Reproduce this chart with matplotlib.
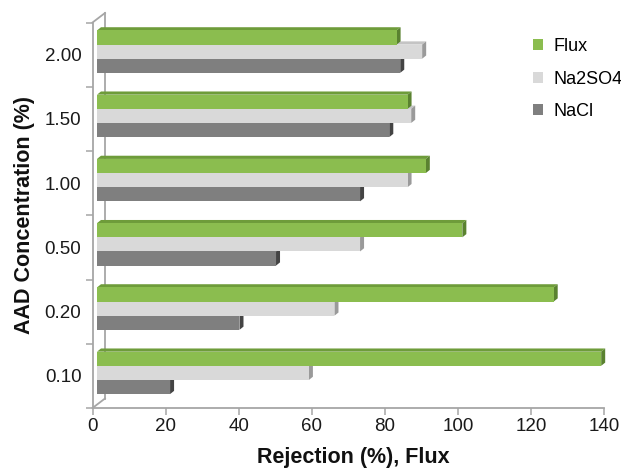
import matplotlib
matplotlib.use("Agg")
import matplotlib.pyplot as plt
from matplotlib.patches import Polygon, Patch
from matplotlib.lines import Line2D
from matplotlib.transforms import ScaledTranslation

plt.rcParams['font.family'] = ['Liberation Sans', 'DejaVu Sans']

concentrations = ["0.10", "0.20", "0.50", "1.00", "1.50", "2.00"]
flux = [138, 125, 100, 90, 85, 82]
na2so4 = [58, 65, 72, 85, 86, 89]
nacl = [20, 39, 49, 72, 80, 83]

series_names = ["Flux", "Na2SO4", "NaCl"]
face_colors = ["#8bbd4f", "#d9d9d9", "#7f7f7f"]
top_colors = ["#6e9c3a", "#c4c4c4", "#6a6a6a"]
side_colors = ["#5a8230", "#9a9a9a", "#444444"]

W, H = 621, 469
fig = plt.figure(figsize=(W / 100, H / 100), dpi=100)
left, right, bottom, top = 92.5, 604, 408, 22.5
ax = fig.add_axes([left / W, 1 - bottom / H, (right - left) / W, (bottom - top) / H])

xmax = 140
ax.set_xlim(0, xmax)
ax.set_ylim(-0.5, len(concentrations) - 0.5)

px_per_x = (right - left) / xmax
px_per_y = (bottom - top) / len(concentrations)

# bars sit slightly behind the front plane
face_shift = ScaledTranslation(0.045, 0.03, fig.dpi_scale_trans)
trans = ax.transData + face_shift
depth_x = 4.0 / px_per_x
depth_y = 3.2 / px_per_y

bar_h = 0.22
offsets = [bar_h, 0.0, -bar_h]
values = [flux, na2so4, nacl]

z = 2
for i in range(len(concentrations)):
    # draw bottom bar of the group first so upper faces cover hidden parts
    for s in [2, 1, 0]:
        v = values[s][i]
        yc = i + offsets[s]
        y0, y1 = yc - bar_h / 2, yc + bar_h / 2
        topface = Polygon([(0, y1), (depth_x, y1 + depth_y), (v + depth_x, y1 + depth_y), (v, y1)],
                          closed=True, facecolor=top_colors[s], edgecolor='none',
                          transform=trans, zorder=z, clip_on=False)
        side = Polygon([(v, y0), (v + depth_x, y0 + depth_y), (v + depth_x, y1 + depth_y), (v, y1)],
                       closed=True, facecolor=side_colors[s], edgecolor='none',
                       transform=trans, zorder=z, clip_on=False)
        ax.add_patch(topface)
        ax.add_patch(side)
        ax.barh(yc, v, height=bar_h, color=face_colors[s], transform=trans,
                zorder=z + 0.5, linewidth=0, clip_on=False)
        z += 1

axis_color = "#a6a6a6"
for sp in ["top", "right"]:
    ax.spines[sp].set_visible(False)
for sp in ["left", "bottom"]:
    ax.spines[sp].set_color(axis_color)
    ax.spines[sp].set_linewidth(1.3)

# back wall edge and depth connectors
back = ScaledTranslation(0.125, 0.095, fig.dpi_scale_trans)
btrans = ax.transAxes + back
ax.add_line(Line2D([0, 0], [0, 1], transform=btrans, color=axis_color, lw=1.3, clip_on=False, zorder=1))
inv = ax.transAxes.inverted()
for yv in [0, 1]:
    a0 = (0, yv)
    a1 = inv.transform(btrans.transform((0, yv)))
    ax.add_line(Line2D([a0[0], a1[0]], [a0[1], a1[1]], transform=ax.transAxes,
                       color=axis_color, lw=1.3, clip_on=False, zorder=1))

ax.set_xticks(range(0, xmax + 1, 20))
ax.tick_params(axis='x', length=5, width=1.1, color=axis_color, pad=2, labelsize=13.5, labelcolor='#1a1a1a')
ax.set_yticks(range(len(concentrations)))
ax.set_yticklabels(concentrations)
ax.set_yticks([i - 0.5 for i in range(len(concentrations) + 1)], minor=True)
ax.tick_params(axis='y', which='major', length=0, pad=8, labelsize=13.5, labelcolor='#1a1a1a')
ax.tick_params(axis='y', which='minor', length=5, width=1.1, color=axis_color)

ax.set_xlabel("Rejection (%), Flux", fontsize=15.5, fontweight='bold', labelpad=7, color='#111111')
ax.xaxis.set_label_coords(0.51, -0.1)
ax.set_ylabel("AAD Concentration (%)", fontsize=15.5, fontweight='bold', labelpad=7, color='#111111')

handles = [Patch(facecolor=c, edgecolor='none') for c in face_colors]
fig.legend(handles, series_names, loc='upper left', bbox_to_anchor=(526 / W, 1 - 31 / H),
           frameon=False, fontsize=13, handlelength=0.55, handleheight=0.55,
           handletextpad=0.55, labelspacing=0.85, borderaxespad=0)

fig.savefig("out.png", dpi=100)
